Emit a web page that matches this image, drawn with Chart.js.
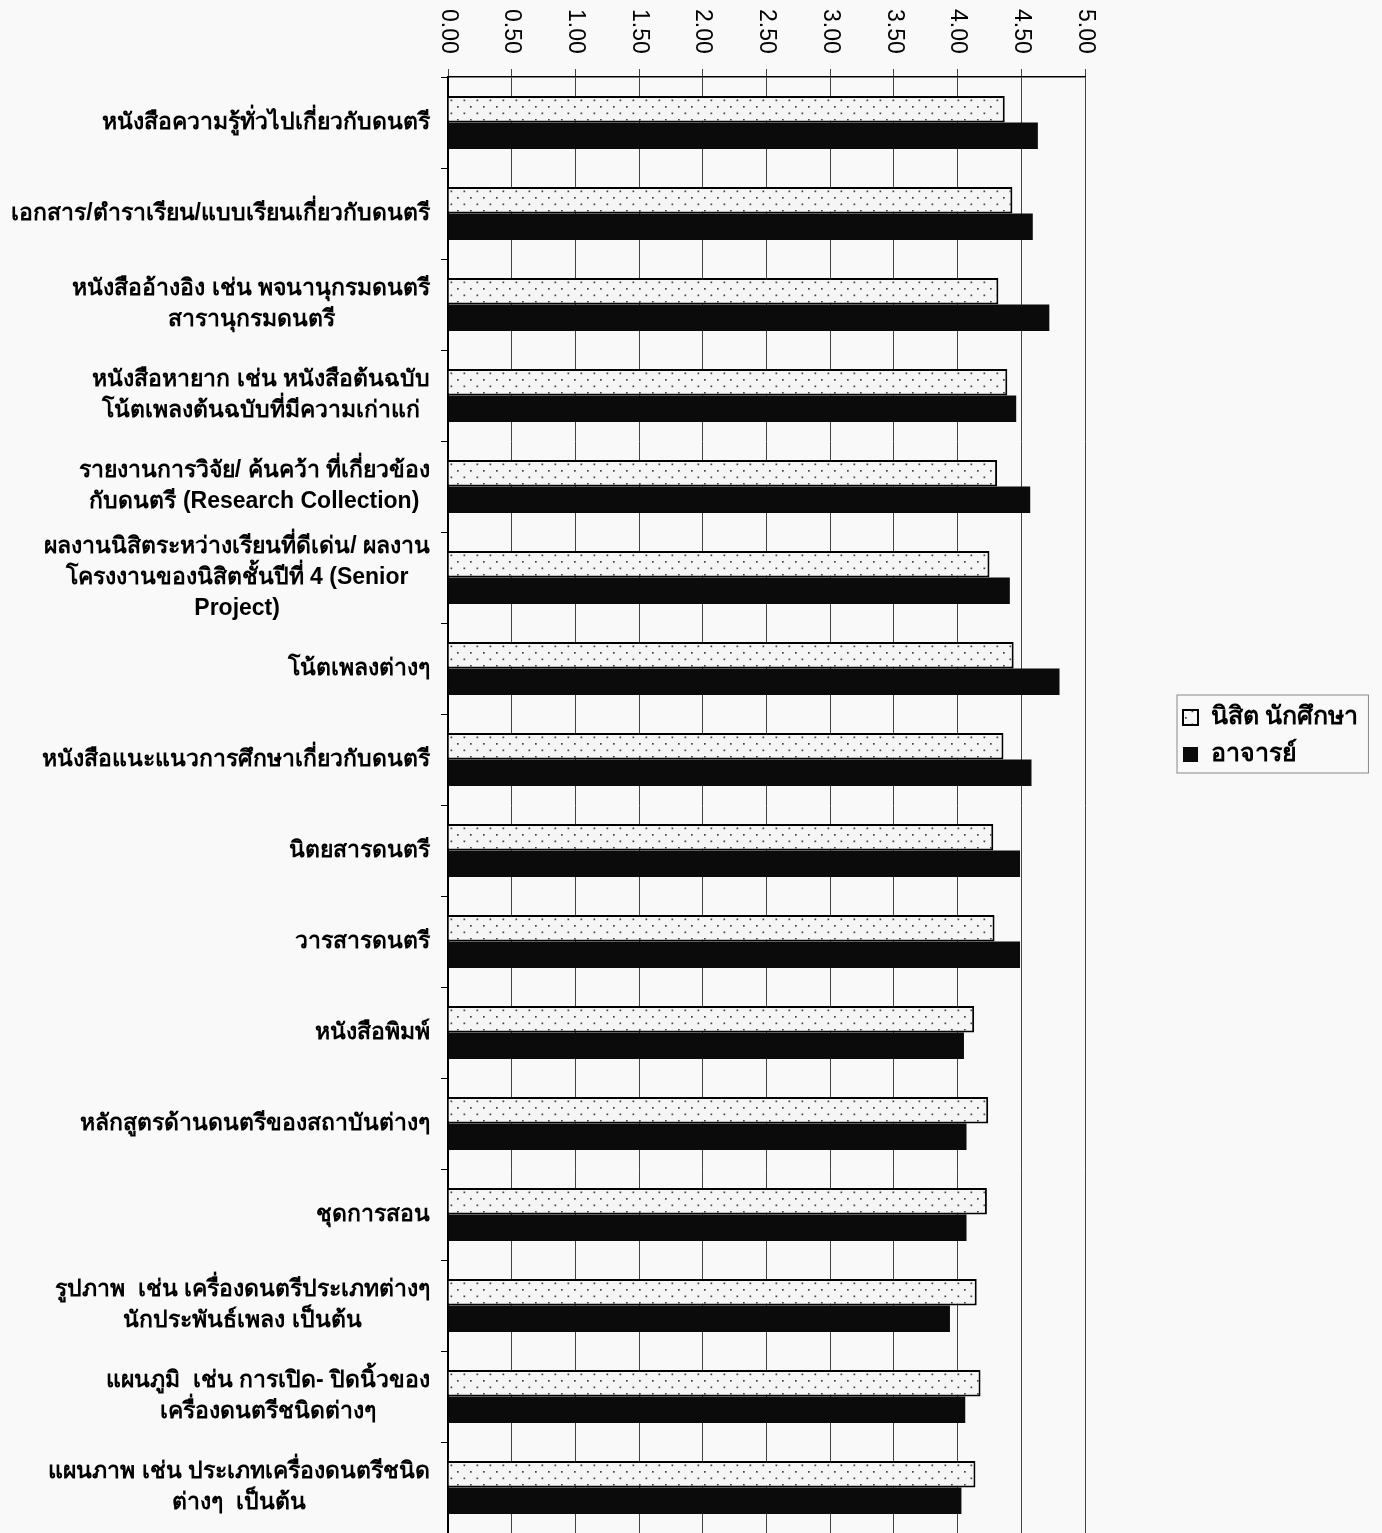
<!DOCTYPE html>
<html>
<head>
<meta charset="utf-8">
<script src="https://cdn.jsdelivr.net/npm/chart.js@4.4.1/dist/chart.umd.min.js"></script>
<style>
    html, body { margin: 0; padding: 0; background: #f9f9f9; }
    #caixa { width: 1382px; height: 1533px; }
</style>
</head>
<body>
<div id="caixa"><canvas id="grafico"></canvas></div>
<script>
// categorias (linhas quebradas como no original)
const categorias = [
    "หนังสือความรู้ทั่วไปเกี่ยวกับดนตรี",
    "เอกสาร/ตำราเรียน/แบบเรียนเกี่ยวกับดนตรี",
    ["หนังสืออ้างอิง เช่น พจนานุกรมดนตรี", "สารานุกรมดนตรี"],
    ["หนังสือหายาก เช่น หนังสือต้นฉบับ", "โน้ตเพลงต้นฉบับที่มีความเก่าแก่"],
    ["รายงานการวิจัย/ ค้นคว้า ที่เกี่ยวข้อง", "กับดนตรี (Research Collection)"],
    ["ผลงานนิสิตระหว่างเรียนที่ดีเด่น/ ผลงาน", "โครงงานของนิสิตชั้นปีที่ 4 (Senior", "Project)"],
    "โน้ตเพลงต่างๆ",
    "หนังสือแนะแนวการศึกษาเกี่ยวกับดนตรี",
    "นิตยสารดนตรี",
    "วารสารดนตรี",
    "หนังสือพิมพ์",
    "หลักสูตรด้านดนตรีของสถาบันต่างๆ",
    "ชุดการสอน",
    ["รูปภาพ  เช่น เครื่องดนตรีประเภทต่างๆ", "นักประพันธ์เพลง เป็นต้น"],
    ["แผนภูมิ  เช่น การเปิด- ปิดนิ้วของ", "เครื่องดนตรีชนิดต่างๆ"],
    ["แผนภาพ เช่น ประเภทเครื่องดนตรีชนิด", "ต่างๆ  เป็นต้น"]
];
const series = ["นิสิต นักศึกษา", "อาจารย์"];
const valoresNisit = [4.37, 4.43, 4.32, 4.39, 4.31, 4.25, 4.44, 4.36, 4.28, 4.29, 4.13, 4.24, 4.23, 4.15, 4.18, 4.14];
const valoresAjarn = [4.63, 4.59, 4.72, 4.46, 4.57, 4.41, 4.80, 4.58, 4.49, 4.49, 4.05, 4.07, 4.07, 3.94, 4.06, 4.03];
const marcasX = [0, 0.5, 1, 1.5, 2, 2.5, 3, 3.5, 4, 4.5, 5];

const fonteTexto = '"Liberation Sans", Arial, sans-serif';

// padrao pontilhado das barras dos nisit
function criaPadrao() {
    const c = document.createElement("canvas");
    c.width = 13; c.height = 13;
    const g = c.getContext("2d");
    g.fillStyle = "#f5f5f5";
    g.fillRect(0, 0, 13, 13);
    g.fillStyle = "#444";
    g.fillRect(2, 2, 1.7, 1.7);
    g.fillRect(8.5, 8.5, 1.7, 1.7);
    return g.createPattern(c, "repeat");
}
const padrao = criaPadrao();

// desenha os rotulos dos eixos e a moldura da legenda
const rotulos = {
    id: "rotulos",
    afterLayout(chart) {
        // move a legenda para a posicao do original (sem mexer na area do grafico)
        const leg = chart.legend;
        const pad = leg.options.labels.padding;
        leg.left = chart.chartArea.right + 86;
        leg.right = chart.width;
        leg.width = leg.right - leg.left;
        const alturaCol = leg.columnSizes[0].height;
        const topoAtual = (leg.top + pad + leg.bottom - alturaCol) / 2;
        const dy = 705 - topoAtual;
        leg.top += dy;
        leg.bottom += dy;
    },
    afterDraw(chart) {
        const ctx = chart.ctx;
        const x = chart.scales.x;
        const y = chart.scales.y;
        ctx.save();
        ctx.fillStyle = "#000";
        // eixo x: rotulos girados 90 graus
        ctx.font = "23px " + fonteTexto;
        ctx.textAlign = "left";
        ctx.textBaseline = "middle";
        marcasX.forEach(v => {
            const px = x.getPixelForValue(v);
            ctx.save();
            ctx.translate(px, 9);
            ctx.rotate(Math.PI / 2);
            ctx.fillText(v.toFixed(2), 0, 0);
            ctx.restore();
        });
        // eixo y: linhas centradas entre si, bloco alinhado a direita
        ctx.font = "bold 23px " + fonteTexto;
        ctx.textAlign = "center";
        categorias.forEach((cat, i) => {
            const linhas = [].concat(cat);
            const larg = Math.max(...linhas.map(l => ctx.measureText(l).width));
            const cx = y.right - 18 - larg / 2;
            const cy = y.getPixelForTick(i);
            linhas.forEach((l, k) => {
                ctx.fillText(l, cx, cy + (k - (linhas.length - 1) / 2) * 31);
            });
        });
        // moldura da legenda
        const caixas = chart.legend.legendHitBoxes;
        if (caixas && caixas.length) {
            const esq = caixas[0].left - 6;
            const topo = caixas[0].top - 10;
            const dir = Math.max(...caixas.map(b => b.left + b.width)) + 10;
            const ult = caixas[caixas.length - 1];
            const baixo = ult.top + ult.height + 6;
            ctx.strokeStyle = "#888";
            ctx.lineWidth = 1;
            ctx.strokeRect(esq, topo, dir - esq, baixo - topo);
        }
        ctx.restore();
    }
};

const config = {
    type: "bar",
    data: {
        labels: categorias,
        datasets: [
            {
                label: series[0],
                data: valoresNisit,
                backgroundColor: padrao,
                borderColor: "#000",
                borderWidth: 2,
                categoryPercentage: 0.58,
                barPercentage: 1.0
            },
            {
                label: series[1],
                data: valoresAjarn,
                backgroundColor: "#0b0b0b",
                borderColor: "#0b0b0b",
                borderWidth: 0,
                categoryPercentage: 0.58,
                barPercentage: 1.0
            }
        ]
    },
    options: {
        indexAxis: "y",
        responsive: true,
        maintainAspectRatio: false,
        animation: false,
        layout: { padding: { right: 147 } },
        scales: {
            x: {
                type: "linear",
                position: "top",
                min: 0,
                max: 5,
                afterBuildTicks: s => { s.ticks = marcasX.map(v => ({ value: v })); },
                afterFit: s => { s.height = 77; },
                ticks: { display: false },
                grid: { color: "#444", lineWidth: 1, drawTicks: true, tickLength: 8 },
                border: { color: "#000", width: 1.5 }
            },
            y: {
                type: "category",
                offset: true,
                afterFit: s => { s.width = 448; },
                ticks: { display: false },
                grid: { offset: true, drawOnChartArea: false, drawTicks: true, tickLength: 7, color: "#000" },
                border: { color: "#000", width: 2 }
            }
        },
        plugins: {
            legend: {
                position: "right",
                maxWidth: 150,
                labels: {
                    color: "#000",
                    boxWidth: 15,
                    boxHeight: 15,
                    padding: 12,
                    font: { size: 25, weight: "bold", family: fonteTexto }
                }
            },
            tooltip: { enabled: false }
        }
    },
    plugins: [rotulos]
};

new Chart(document.getElementById("grafico"), config);
</script>
</body>
</html>
